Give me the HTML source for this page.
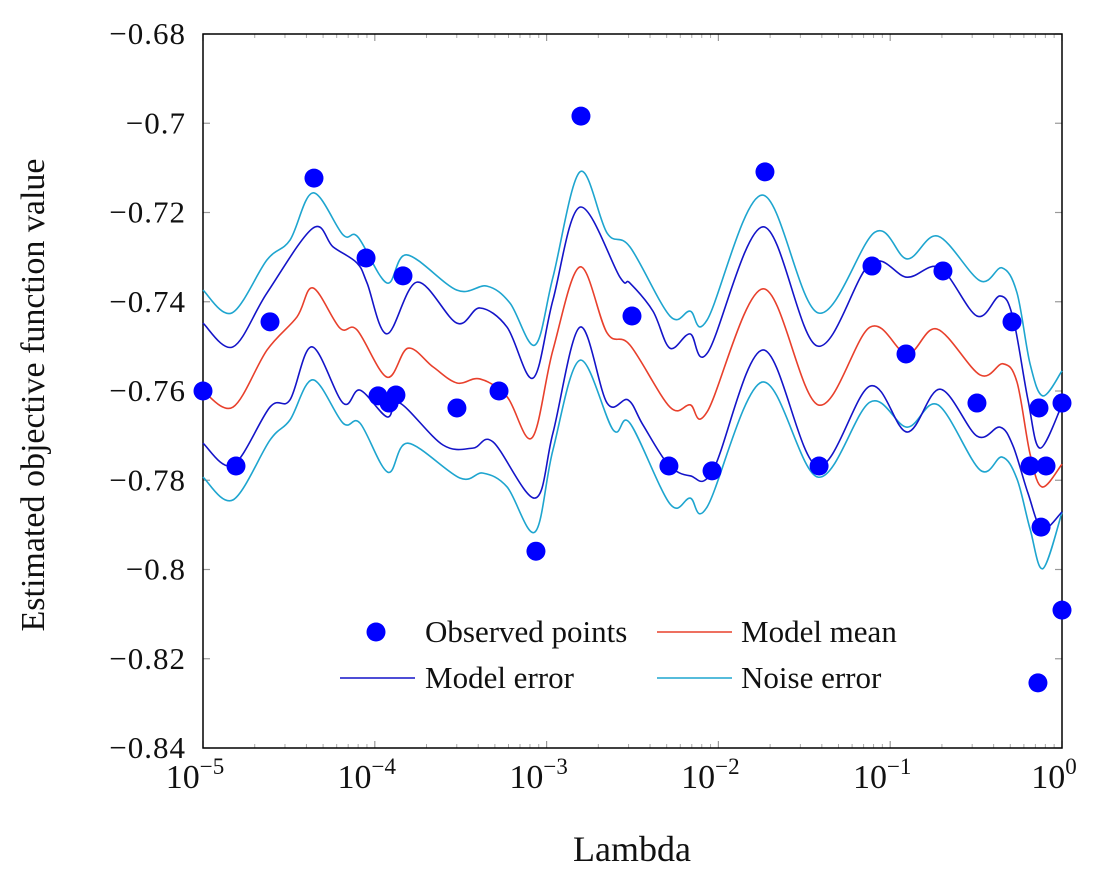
<!DOCTYPE html>
<html><head><meta charset="utf-8"><style>
body{margin:0;background:#fff;}
svg text{font-family:"Liberation Serif","DejaVu Serif",serif;fill:#111;}
</style></head><body>
<svg id="chart" width="1100" height="878" xmlns="http://www.w3.org/2000/svg">
<g id="grid"></g><g id="series"></g><g id="pts"></g><g id="legend"></g>
</svg>
<script>
// x values are log10(lambda), y are objective values
const obsLogLambda=[-5,-4.808,-4.610,-4.354,-4.051,-3.981,-3.917,-3.877,-3.836,-3.522,-3.277,-3.062,-2.800,-2.503,-2.288,-2.037,-1.729,-1.414,-1.106,-0.908,-0.693,-0.495,-0.291,-0.186,-0.134,0,-0.093,-0.122,0,-0.140];
const obsValue=[-0.7600,-0.7768,-0.7445,-0.7123,-0.7302,-0.7611,-0.7627,-0.7609,-0.7342,-0.7638,-0.7600,-0.7959,-0.6984,-0.7432,-0.7768,-0.7779,-0.7109,-0.7768,-0.7320,-0.7517,-0.7331,-0.7627,-0.7445,-0.7768,-0.7638,-0.7627,-0.7768,-0.7905,-0.8091,-0.8254];

const meanX=[-5,-4.825,-4.627,-4.453,-4.360,-4.203,-4.104,-3.929,-3.807,-3.661,-3.522,-3.388,-3.230,-3.085,-2.963,-2.806,-2.648,-2.515,-2.282,-2.165,-2.066,-1.740,-1.420,-1.118,-0.902,-0.728,-0.477,-0.343,-0.262,-0.186,-0.116,0];
const meanY=[-0.7600,-0.7636,-0.7508,-0.7434,-0.7369,-0.7459,-0.7463,-0.7569,-0.7504,-0.7546,-0.7582,-0.7573,-0.7613,-0.7705,-0.7508,-0.7322,-0.7470,-0.7497,-0.7636,-0.7631,-0.7647,-0.7371,-0.7631,-0.7457,-0.7517,-0.7461,-0.7564,-0.7539,-0.7580,-0.7741,-0.7815,-0.7764];

const modelUpX=[-5,-4.825,-4.627,-4.360,-4.243,-4.104,-4.045,-3.929,-3.754,-3.522,-3.388,-3.230,-3.079,-2.963,-2.806,-2.573,-2.515,-2.381,-2.282,-2.165,-2.061,-1.740,-1.426,-1.118,-0.902,-0.710,-0.495,-0.361,-0.285,-0.198,-0.128,0];
const modelUpY=[-0.7448,-0.7501,-0.7380,-0.7235,-0.7277,-0.7313,-0.7358,-0.7472,-0.7356,-0.7448,-0.7414,-0.7457,-0.7571,-0.7396,-0.7188,-0.7345,-0.7358,-0.7421,-0.7504,-0.7472,-0.7513,-0.7232,-0.7499,-0.7315,-0.7345,-0.7324,-0.7432,-0.7387,-0.7436,-0.7620,-0.7728,-0.7631];

const modelLoX=[-5,-4.825,-4.610,-4.494,-4.366,-4.185,-4.086,-3.929,-3.854,-3.603,-3.429,-3.312,-3.068,-2.963,-2.806,-2.648,-2.526,-2.439,-2.293,-2.165,-2.031,-1.740,-1.426,-1.118,-0.902,-0.710,-0.495,-0.361,-0.285,-0.198,-0.116,0];
const modelLoY=[-0.7717,-0.7766,-0.7636,-0.7620,-0.7501,-0.7627,-0.7598,-0.7658,-0.7627,-0.7721,-0.7728,-0.7714,-0.7840,-0.7694,-0.7457,-0.7627,-0.7620,-0.7676,-0.7764,-0.7790,-0.7777,-0.7508,-0.7768,-0.7589,-0.7692,-0.7596,-0.7701,-0.7681,-0.7723,-0.7829,-0.7909,-0.7871];

const noiseUpX=[-5,-4.831,-4.627,-4.494,-4.360,-4.185,-4.098,-3.929,-3.813,-3.522,-3.347,-3.213,-3.068,-2.963,-2.806,-2.648,-2.515,-2.282,-2.165,-2.066,-1.746,-1.420,-1.089,-0.902,-0.722,-0.477,-0.349,-0.262,-0.186,-0.111,0];
const noiseUpY=[-0.7374,-0.7425,-0.7306,-0.7262,-0.7156,-0.7250,-0.7255,-0.7358,-0.7295,-0.7374,-0.7365,-0.7403,-0.7497,-0.7345,-0.7109,-0.7246,-0.7277,-0.7432,-0.7421,-0.7441,-0.7161,-0.7425,-0.7244,-0.7304,-0.7253,-0.7353,-0.7324,-0.7380,-0.7539,-0.7611,-0.7555];

const noiseLoX=[-5,-4.825,-4.610,-4.494,-4.360,-4.185,-4.086,-3.924,-3.807,-3.505,-3.370,-3.230,-3.068,-2.963,-2.806,-2.613,-2.515,-2.282,-2.165,-2.066,-1.746,-1.420,-1.118,-0.902,-0.722,-0.477,-0.349,-0.262,-0.186,-0.111,0];
const noiseLoY=[-0.7793,-0.7844,-0.7710,-0.7665,-0.7575,-0.7672,-0.7672,-0.7782,-0.7717,-0.7795,-0.7784,-0.7815,-0.7916,-0.7732,-0.7531,-0.7687,-0.7672,-0.7853,-0.7840,-0.7860,-0.7580,-0.7793,-0.7625,-0.7681,-0.7631,-0.7777,-0.7748,-0.7797,-0.7909,-0.7998,-0.7872];

const xTickExp=[-5,-4,-3,-2,-1,0];
const yTicks=[-0.68,-0.70,-0.72,-0.74,-0.76,-0.78,-0.80,-0.82,-0.84];
const yTickLabels=["−0.68","−0.7","−0.72","−0.74","−0.76","−0.78","−0.8","−0.82","−0.84"];

const L=203,R=1062,T=34,B=748;
const xs=v=>L+(v+5)/5*(R-L);
const ys=v=>T+(-0.68-v)/0.16*(B-T);
const NS="http://www.w3.org/2000/svg";
function mk(tag,attrs,parent){const e=document.createElementNS(NS,tag);for(const k in attrs)e.setAttribute(k,attrs[k]);parent.appendChild(e);return e;}
const grid=document.getElementById('grid');
xTickExp.forEach(e=>{
  const x=xs(e);
  const t1=mk('line',{x1:x,x2:x,y1:B,y2:B-7,stroke:'#999','stroke-width':1.2},grid);
  
  
  mk('line',{x1:x,x2:x,y1:T,y2:T+7,stroke:'#999','stroke-width':1.2},grid);
  const tx=mk('text',{x:x-8,y:788,'font-size':34,'text-anchor':'middle'},grid);
  
  
  tx.innerHTML='10<tspan dy="-14" font-size="23">'+(e===0?'0':'−'+(-e))+'</tspan>';
  if(e<0){for(let m=2;m<=9;m++){const xm=xs(e+Math.log10(m));
    mk('line',{x1:xm,x2:xm,y1:B,y2:B-4,stroke:'#aaa','stroke-width':1},grid);
    mk('line',{x1:xm,x2:xm,y1:T,y2:T+4,stroke:'#aaa','stroke-width':1},grid);}}
});
yTicks.forEach((v,i)=>{
  const y=ys(v);
  mk('line',{x1:L,x2:L+7,y1:y,y2:y,stroke:'#999','stroke-width':1.2},grid);
  mk('line',{x1:R,x2:R-7,y1:y,y2:y,stroke:'#999','stroke-width':1.2},grid);
  const t=mk('text',{x:186,y:y+10,'font-size':31,'text-anchor':'end','letter-spacing':1},grid);
  
  
  t.textContent=yTickLabels[i];
});
const frame=mk('rect',{x:L,y:T,width:R-L,height:B-T,fill:'none',stroke:'#000','stroke-width':1.5},grid);


const xt=mk('text',{x:632,y:861,'font-size':36,'text-anchor':'middle'},grid);


xt.textContent='Lambda';
const yt=mk('text',{x:0,y:0,'font-size':34,'text-anchor':'middle',transform:'translate(44,395) rotate(-90)'},grid);


yt.textContent='Estimated objective function value';

const series=document.getElementById('series');
function smoothPath(P){
  let d='M'+P[0][0]+','+P[0][1];
  for(let i=0;i<P.length-1;i++){
    const p0=P[i-1]||P[i],p1=P[i],p2=P[i+1],p3=P[i+2]||P[i+1];
    const c1x=p1[0]+(p2[0]-p0[0])/6,c1y=p1[1]+(p2[1]-p0[1])/6;
    const c2x=p2[0]-(p3[0]-p1[0])/6,c2y=p2[1]-(p3[1]-p1[1])/6;
    d+=' C'+c1x+','+c1y+' '+c2x+','+c2y+' '+p2[0]+','+p2[1];
  }
  return d;
}
function line(X,Y,col,name){
  const P=X.map((x,i)=>[xs(x),ys(Y[i])]);
  const p=mk('path',{d:smoothPath(P),fill:'none',stroke:col,'stroke-width':1.6,'stroke-linejoin':'round'},series);
  
  
}
const CY='#1ea5cf',BL='#1414c8',RD='#e8402c';
line(noiseUpX,noiseUpY,CY,'noise-error-upper');
line(noiseLoX,noiseLoY,CY,'noise-error-lower');
line(modelUpX,modelUpY,BL,'model-error-upper');
line(modelLoX,modelLoY,BL,'model-error-lower');
line(meanX,meanY,RD,'model-mean-line');
const pts=document.getElementById('pts');
obsLogLambda.forEach((x,i)=>{
  const c=mk('circle',{cx:xs(x),cy:ys(obsValue[i]),r:9.5,fill:'#0000ff'},pts);
  
  
});
const lg=document.getElementById('legend');


function entry(kind,col,x0,y,lbl,tx){
  if(kind==='dot'){mk('circle',{cx:x0,cy:y,r:9.5,fill:col},lg);}
  else mk('line',{x1:x0,x2:x0+75,y1:y,y2:y,stroke:col,'stroke-width':1.6},lg);
  const t=mk('text',{x:tx,y:y+10,'font-size':31},lg);
  
  
  t.textContent=lbl;
}
entry('dot','#0000ff',376,632,'Observed points',425);
entry('line',RD,657,632,'Model mean',741);
entry('line',BL,340,678,'Model error',425);
entry('line',CY,657,678,'Noise error',741);
</script>
</body></html>
